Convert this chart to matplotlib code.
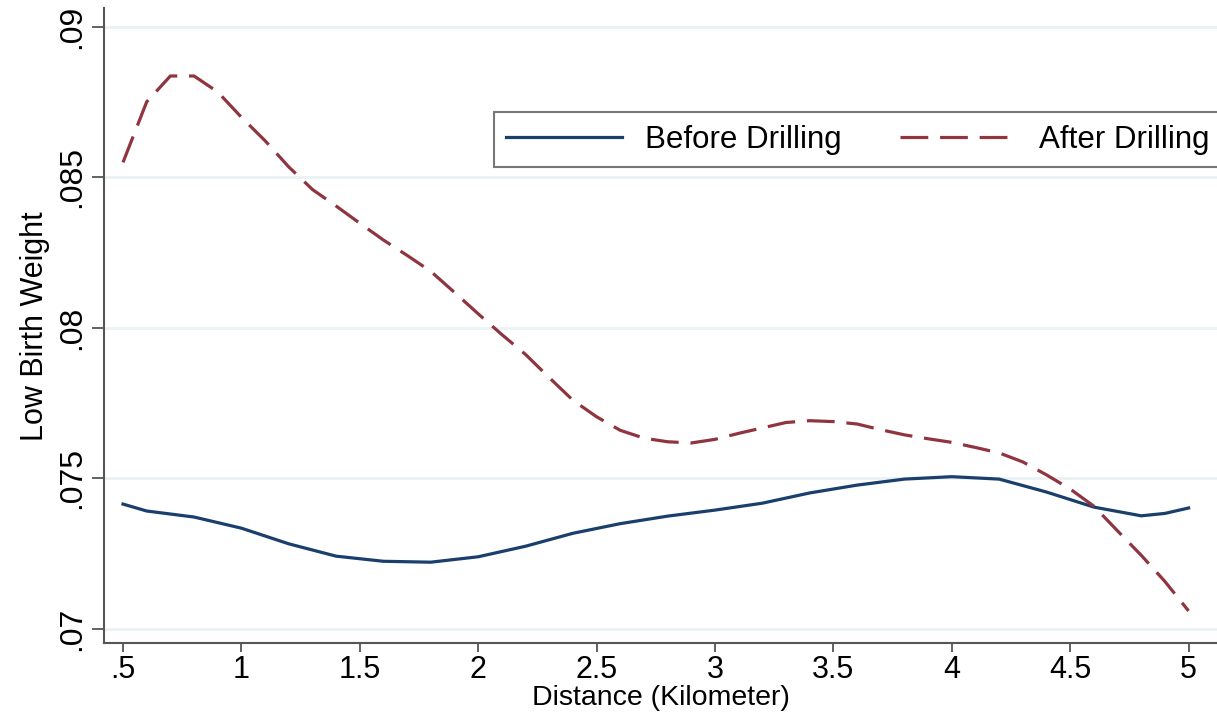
import matplotlib
matplotlib.use("Agg")
from matplotlib import pyplot as plt

plt.rcParams['font.family'] = ['Liberation Sans', 'DejaVu Sans']
plt.rcParams['lines.scale_dashes'] = False

# distance (km) and low birth weight rates
dist_before = [0.5, 0.6, 0.8, 1.0, 1.2, 1.4, 1.6, 1.8, 2.0, 2.2, 2.4, 2.6, 2.8,
               3.0, 3.2, 3.4, 3.6, 3.8, 4.0, 4.2, 4.4, 4.6, 4.8, 4.9, 5.0]
lbw_before = [0.07415, 0.07392, 0.07372, 0.07335, 0.07283, 0.07242, 0.07225,
              0.07222, 0.07240, 0.07275, 0.07318, 0.07350, 0.07375, 0.07395,
              0.07418, 0.07452, 0.07478, 0.07498, 0.07506, 0.07498, 0.07455,
              0.07405, 0.07376, 0.07384, 0.07402]

dist_after = [0.5, 0.6, 0.7, 0.8, 0.9, 1.0, 1.1, 1.2, 1.3, 1.4, 1.5, 1.6, 1.7,
              1.8, 1.9, 2.0, 2.1, 2.2, 2.3, 2.4, 2.5, 2.6, 2.7, 2.8, 2.9, 3.0,
              3.1, 3.2, 3.3, 3.4, 3.5, 3.6, 3.7, 3.8, 3.9, 4.0, 4.1, 4.2, 4.3,
              4.4, 4.5, 4.6, 4.7, 4.8, 4.9, 5.0]
lbw_after = [0.0855, 0.08751, 0.08837, 0.08837, 0.08784, 0.08700, 0.08622,
             0.08535, 0.08460, 0.08405, 0.08348, 0.08292, 0.08241, 0.08188,
             0.08118, 0.08047, 0.07978, 0.07912, 0.07835, 0.07760, 0.07705,
             0.07660, 0.07634, 0.07622, 0.07618, 0.07630, 0.07650, 0.07668,
             0.07686, 0.07692, 0.07689, 0.07681, 0.07662, 0.07645, 0.07632,
             0.07620, 0.07603, 0.07585, 0.07555, 0.07512, 0.07465, 0.07408,
             0.07326, 0.07245, 0.07158, 0.07060]

xticks = [0.5, 1, 1.5, 2, 2.5, 3, 3.5, 4, 4.5, 5]
xlabels = ['.5', '1', '1.5', '2', '2.5', '3', '3.5', '4', '4.5', '5']
yticks = [0.07, 0.075, 0.08, 0.085, 0.09]
ylabels = ['.07', '.075', '.08', '.085', '.09']

fig = plt.figure(figsize=(12.17, 7.23), dpi=100)
ax = fig.add_axes([0.0855, 0.11, 0.9145, 0.879])

ax.plot(dist_before, lbw_before, color='#1a3f6c', lw=2.3, label='Before Drilling')
ax.plot(dist_after, lbw_after, color='#8f3540', lw=2.3, dashes=(20, 8.5),
        label='After Drilling')

ax.set_xlim(0.42, 5.12)
ax.set_ylim(0.06952, 0.09063)
ax.set_xticks(xticks)
ax.set_xticklabels(xlabels)
ax.set_yticks(yticks)
ax.set_yticklabels(ylabels, rotation=90, va='center')
ax.tick_params(axis='both', labelsize=22, color='#555555', width=1.3,
               length=6.5, pad=2)
ax.tick_params(axis='y', length=9, pad=3, labelsize=23)
ax.grid(axis='y', color='#eaf2f3', lw=2)
ax.set_axisbelow(True)

for side in ['top', 'right']:
    ax.spines[side].set_visible(False)
for side in ['left', 'bottom']:
    ax.spines[side].set_color('#555555')
    ax.spines[side].set_linewidth(1.5)

ax.set_xlabel('Distance (Kilometer)', fontsize=20.5, labelpad=0)
ax.set_ylabel('Low Birth Weight', fontsize=22, labelpad=5)

leg = ax.legend(loc='upper left', bbox_to_anchor=(0.35, 0.836), ncol=2,
                fontsize=22.5, frameon=True, fancybox=False, handlelength=3.7,
                handletextpad=0.75, columnspacing=1.85, borderaxespad=0,
                borderpad=0.4)
leg.get_frame().set_edgecolor('#555555')
leg.get_frame().set_linewidth(1.5)

fig.savefig('out.png', dpi=100)
